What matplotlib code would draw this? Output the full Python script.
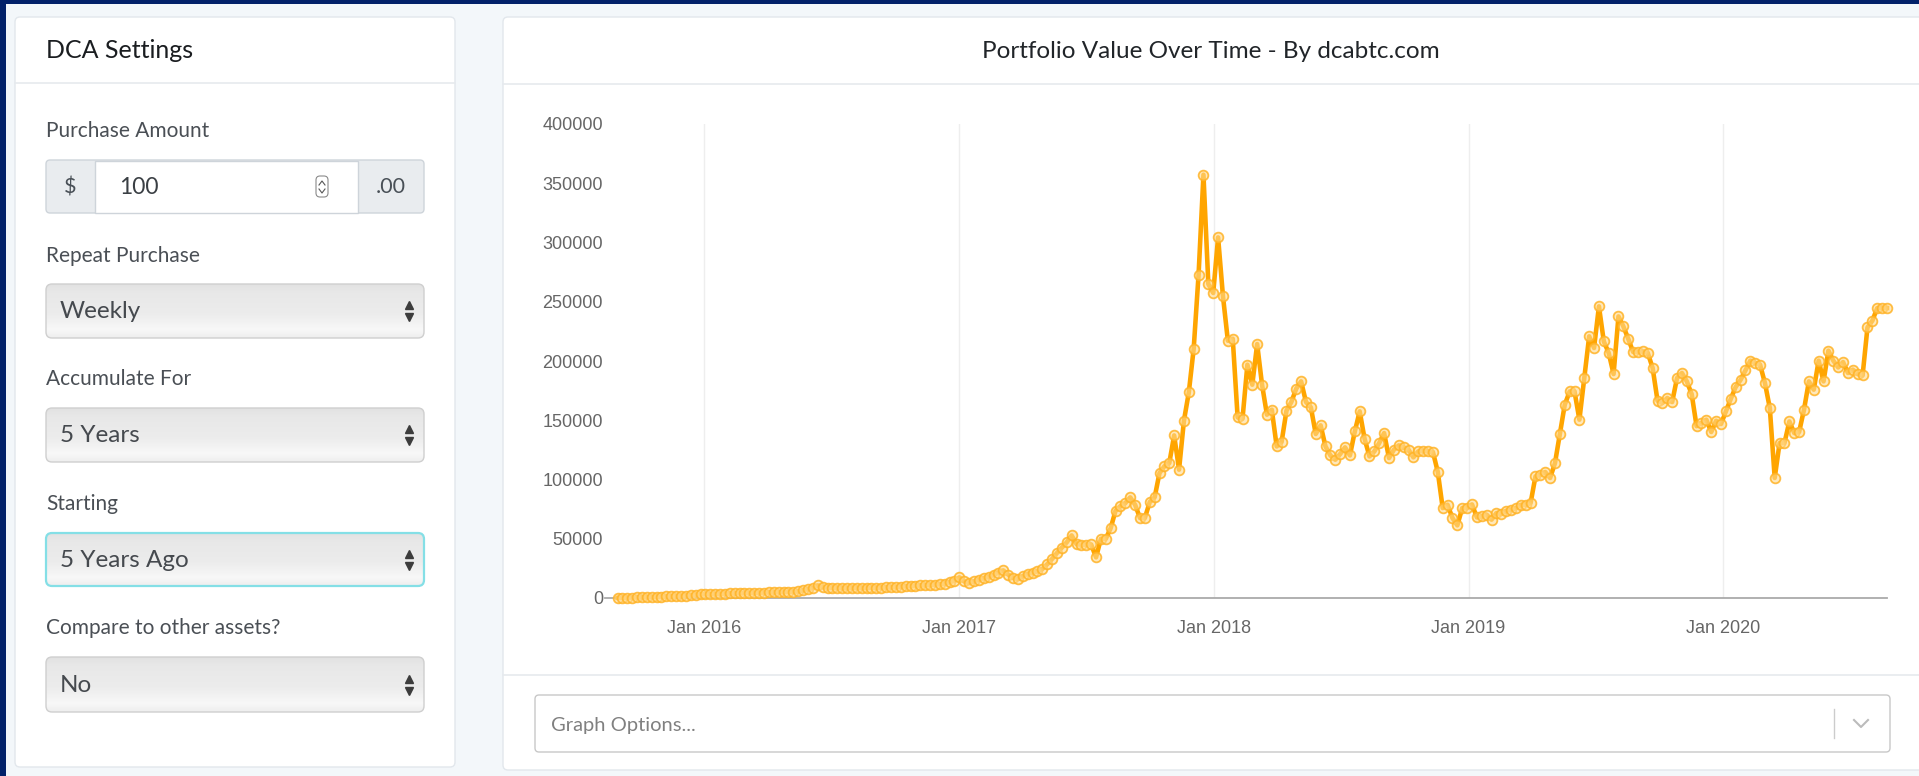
import numpy as np
import pandas as pd
import matplotlib
matplotlib.use("Agg")
import matplotlib.pyplot as plt
from matplotlib.patches import FancyBboxPatch, Rectangle
from matplotlib.colors import LinearSegmentedColormap

# 字体设置
plt.rcParams["font.family"] = ["Lato", "DejaVu Sans"]

# ---- 数据 ----
start_date = "2015-08-30"
# 每周一个点 (美元)
portfolio_values = [
    100, 190, 290, 380, 480, 570, 680, 790, 900, 1050,
    1300, 1500, 1650, 1850, 2100, 2500, 2700, 3000, 3300, 3100,
    3400, 3500, 3600, 3800, 3900, 4000, 4100, 4300, 4400, 4500,
    4600, 4700, 4800, 4900, 5000, 5100, 5300, 5500, 6600, 7600,
    8500, 10600, 9200, 8800, 8600, 8700, 8400, 8400, 8600, 8700,
    8500, 8600, 8700, 8700, 8800, 8900, 9100, 9200, 9500, 9900,
    10000, 10300, 10600, 10800, 11100, 11300, 11600, 12000, 13500, 14500,
    17400, 14000, 12600, 14000, 15500, 16900, 17800, 19500, 21500, 23300,
    19800, 17000, 16000, 18500, 20500, 21300, 22400, 24500, 28500, 33000,
    38000, 42500, 47000, 52800, 45500, 45000, 45000, 45200, 34300, 50000,
    50000, 59000, 73700, 77500, 80100, 84900, 78700, 67500, 67500, 81000,
    84900, 105500, 111100, 113900, 137200, 108300, 149600, 173500, 210400, 272800,
    357200, 265000, 257400, 304300, 254500, 217100, 218800, 152400, 151300, 196900,
    180000, 214300, 180000, 154700, 158900, 127900, 131600, 158000, 165400, 176600,
    182800, 165400, 160900, 138400, 145700, 127900, 120300, 116700, 121500, 127100,
    120300, 140600, 157500, 134400, 119500, 123700, 130800, 139200, 118100, 125100,
    128800, 127100, 125100, 118700, 123700, 124300, 123700, 123200, 106300, 75900,
    78700, 67500, 61300, 75900, 75900, 79000, 68000, 68900, 70300, 66100,
    71700, 70900, 73700, 74500, 75900, 78700, 78700, 80100, 102600, 104000,
    106300, 101300, 113900, 138400, 163100, 174300, 174300, 150500, 185700, 220800,
    211000, 246100, 216500, 206800, 189000, 237600, 229200, 218800, 207600, 207600,
    208100, 206800, 194100, 166500, 164600, 168800, 165400, 185700, 189900, 182800,
    172000, 145000, 147700, 150500, 140100, 149600, 146800, 157500, 168000, 178000,
    184000, 192000, 200300, 198300, 196900, 181400, 160300, 101300, 130800, 130800,
    149000, 139200, 140100, 158900, 182800, 175800, 200300, 182800, 208700, 200300,
    194600, 199100, 189900, 192700, 189000, 187800, 228300, 234000, 244700, 244700,
    244700,
]
y_ticks = [0, 50000, 100000, 150000, 200000, 250000, 300000, 350000, 400000]
x_tick_dates = ["2016-01-01", "2017-01-01", "2018-01-01", "2019-01-01", "2020-01-01"]
x_tick_labels = ["Jan 2016", "Jan 2017", "Jan 2018", "Jan 2019", "Jan 2020"]

chart_title = "Portfolio Value Over Time - By dcabtc.com"
panel_title = "DCA Settings"
field_labels = ["Purchase Amount", "Repeat Purchase", "Accumulate For", "Starting",
                "Compare to other assets?"]
purchase_amount = "100"
select_values = ["Weekly", "5 Years", "5 Years Ago", "No"]

dates = pd.date_range(start_date, periods=len(portfolio_values), freq="7D")

W, H = 1919, 776
fig = plt.figure(figsize=(W / 100, H / 100), dpi=100)
fig.patch.set_facecolor("#f3f7fa")

# 背景画布 (像素坐标)
bg = fig.add_axes([0, 0, 1, 1])
bg.set_xlim(0, W)
bg.set_ylim(H, 0)
bg.axis("off")


def rbox(x0, y0, x1, y1, fc, ec, lw=1.0, r=4, z=1):
    p = FancyBboxPatch((x0, y0), x1 - x0, y1 - y0,
                       boxstyle=f"round,pad=0,rounding_size={r}",
                       fc=fc, ec=ec, lw=lw, zorder=z)
    bg.add_patch(p)
    return p


# 深蓝色边框
bg.add_patch(Rectangle((0, 0), W, 4, fc="#022169", ec="none", zorder=0))
bg.add_patch(Rectangle((0, 0), 6, H, fc="#022169", ec="none", zorder=0))

# ---- 左侧设置面板 ----
rbox(15, 17, 455, 767, "white", "#e2e7ec", lw=1.0, r=5)
bg.plot([15, 455], [83, 83], color="#e6eaee", lw=1.2, zorder=2)
bg.text(46, 51, panel_title, fontsize=18, color="#1a1d20", va="center", zorder=3)

label_y = [131, 256, 379, 504, 628]
for lab, ly in zip(field_labels, label_y):
    bg.text(46, ly, lab, fontsize=15, color="#4a4f55", va="center", zorder=3)

# 输入框 $ 100 .00
rbox(46, 160, 424, 213, "#e9ecef", "#ced4da", lw=1.0, r=4, z=2)
bg.add_patch(Rectangle((95, 160.5), 263, 52, fc="white", ec="#ced4da", lw=1.0, zorder=3))
bg.text(70, 187, "$", fontsize=15.5, color="#495057", ha="center", va="center", zorder=4)
bg.text(391, 187, ".00", fontsize=15.5, color="#495057", ha="center", va="center", zorder=4)
bg.text(119, 187, purchase_amount, fontsize=16.5, color="#3a3f44", va="center", zorder=4)
# 数字微调按钮
rbox(316, 176, 328, 197, "white", "#8a8a8a", lw=0.8, r=4, z=4)
bg.plot([319, 322, 325], [185, 181, 185], color="#555555", lw=0.8, zorder=5)
bg.plot([319, 322, 325], [189, 193, 189], color="#555555", lw=0.8, zorder=5)

# 下拉框
grad_cmap = LinearSegmentedColormap.from_list(
    "sel", [(0, "#e2e2e2"), (0.15, "#e8e8e8"), (0.55, "#ececec"),
            (0.85, "#f8f8f8"), (1.0, "#eeeeee")])
grad = np.linspace(0, 1, 64).reshape(-1, 1)
select_y = [(284, 338), (408, 462), (533, 586), (657, 712)]
for i, (val, (y0, y1)) in enumerate(zip(select_values, select_y)):
    ec = "#84dfe6" if i == 2 else "#cfcfcf"
    lw = 1.6 if i == 2 else 1.0
    p = rbox(46, y0, 424, y1, "none", ec, lw=lw, r=6, z=4)
    im = bg.imshow(grad, extent=(46, 424, y1, y0), aspect="auto", cmap=grad_cmap,
                   origin="upper", zorder=3)
    im.set_clip_path(p)
    yc = (y0 + y1) / 2
    bg.text(60, yc + 1, val, fontsize=17.5, color="#45494e", va="center", zorder=5)
    bg.plot([409], [yc - 6], marker="^", ms=6, color="#3c3c3c", zorder=5)
    bg.plot([409], [yc + 6], marker="v", ms=6, color="#3c3c3c", zorder=5)

# ---- 右侧图表卡片 ----
rbox(503, 17, W + 10, 770, "white", "#e2e7ec", lw=1.0, r=5)
bg.plot([503, W], [84, 84], color="#e6eaee", lw=1.2, zorder=2)
bg.plot([503, W], [675, 675], color="#e6eaee", lw=1.2, zorder=2)
bg.text(1211, 51, chart_title, fontsize=17.5, color="#212529", ha="center", va="center",
        zorder=3)

# Graph Options 选择框
rbox(535, 695, 1890, 752, "white", "#c8c8c8", lw=1.0, r=4, z=2)
bg.text(551, 725, "Graph Options...", fontsize=14.5, color="#808080", va="center", zorder=3)
bg.plot([1834, 1834], [709, 738], color="#cccccc", lw=1.0, zorder=3)
bg.plot([1854, 1861, 1868], [720, 727, 720], color="#bbbbbb", lw=1.5, zorder=3)

bg.set_xlim(0, W)
bg.set_ylim(H, 0)

# ---- 折线图 ----
ax = fig.add_axes([605 / W, 1 - 598 / H, (1887 - 605) / W, (598 - 124) / H])
ax.set_facecolor("none")
ax.plot(dates, portfolio_values, color="#ffa500", lw=3.3, marker="o", ms=7,
        mfc=(1.0, 0.85, 0.55, 0.6), mec=(1.0, 0.70, 0.15, 0.85), mew=1.3,
        clip_on=False, zorder=3)

ax.set_xlim(pd.Timestamp(start_date) - pd.Timedelta(days=18), dates[-1])
ax.set_ylim(0, 400000)
ax.set_yticks(y_ticks)
ax.set_yticklabels([str(v) for v in y_ticks])
ax.set_xticks(pd.to_datetime(x_tick_dates))
ax.set_xticklabels(x_tick_labels)

for lab in ax.get_xticklabels() + ax.get_yticklabels():
    lab.set_family(["Liberation Sans", "DejaVu Sans"])
    lab.set_fontsize(13)
    lab.set_color("#666666")

ax.tick_params(axis="both", length=0)
ax.tick_params(axis="y", pad=1.5)
ax.tick_params(axis="x", pad=16)
ax.grid(axis="x", color="#eeeeee", lw=1.0)
ax.grid(axis="y", visible=False)
for side in ["top", "right", "left"]:
    ax.spines[side].set_visible(False)
ax.spines["bottom"].set_color("#aaaaaa")
ax.spines["bottom"].set_linewidth(1.3)

fig.savefig("out.png", dpi=100, facecolor=fig.get_facecolor())
